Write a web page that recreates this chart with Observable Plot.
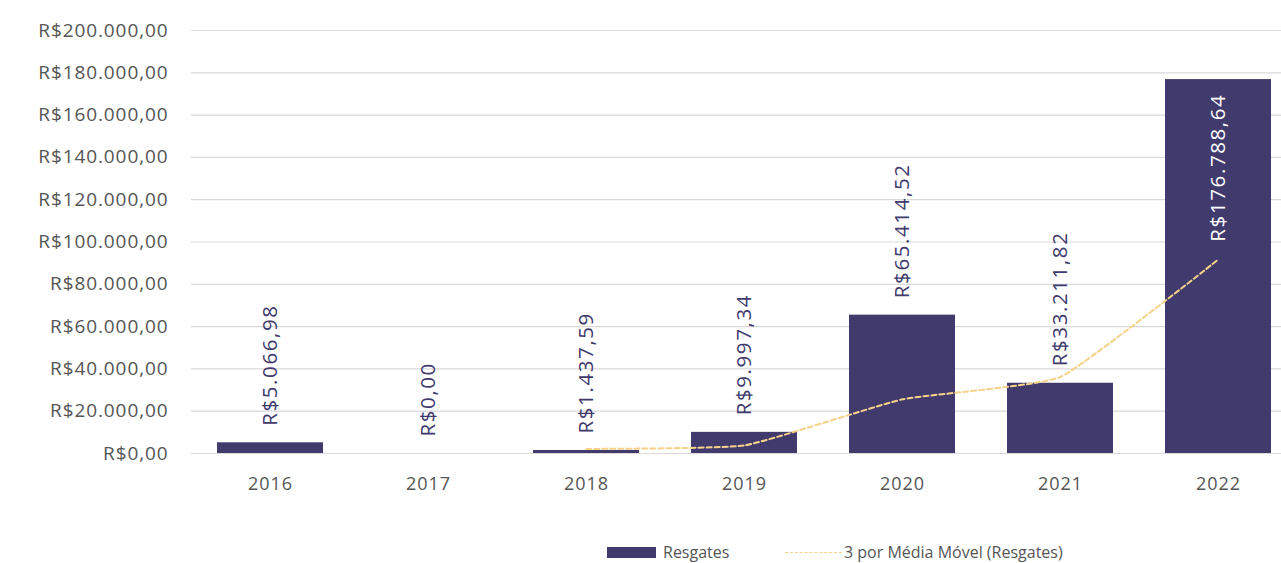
<!DOCTYPE html>
<html>
<head>
<meta charset="utf-8">
<script src="https://cdn.jsdelivr.net/npm/d3@7"></script>
<script src="https://cdn.jsdelivr.net/npm/@observablehq/plot@0.6"></script>
<style>
  html, body { margin: 0; padding: 0; background: #fff; overflow: hidden; width: 1281px; height: 563px; }
  #chart svg { display: block; max-width: none !important; }
  #chart svg g[aria-label="y-axis tick label"] text,
  #chart svg g[aria-label="x-axis tick label"] text { letter-spacing: 0.9px; }
  #chart svg g[aria-label="text"] text { letter-spacing: 1.6px; }
  #legend { position: relative; height: 22px; margin-top: 36px; font-family: "Open Sans", sans-serif; font-size: 16px; color: #555; }
  #legend .item { position: absolute; top: 0; display: flex; align-items: center; height: 22px; }
  #legend .sw { width: 49px; height: 11px; background: #403a6d; margin-right: 7px; }
  #legend .ln { width: 57px; height: 0; border-top: 1.5px dashed #f5d28a; margin-right: 2px; }
</style>
</head>
<body>
<div id="chart"></div>
<div id="legend">
  <div class="item" style="left:607px"><div class="sw"></div><span>Resgates</span></div>
  <div class="item" style="left:785px"><div class="ln"></div><span>3 por Média Móvel (Resgates)</span></div>
</div>
<script>
const years = ["2016", "2017", "2018", "2019", "2020", "2021", "2022"];
const resgates = [5066.98, 0, 1437.59, 9997.34, 65414.52, 33211.82, 176788.64];
const mediaYears = ["2018", "2019", "2020", "2021", "2022"];
const mediaMovel = [2168.19, 3811.64, 25616.48, 36207.89, 91804.99];
const yTicks = [0, 20000, 40000, 60000, 80000, 100000, 120000, 140000, 160000, 180000, 200000];

const brl = d3.formatLocale({decimal: ",", thousands: ".", grouping: [3], currency: ["R$", ""]}).format("$,.2f");

const bars = years.map((y, i) => ({year: y, value: resgates[i], label: brl(resgates[i])}));
const media = mediaYears.map((y, i) => ({year: y, value: mediaMovel[i]}));
const maxV = d3.max(resgates);
const outside = bars.filter(d => d.value !== maxV);
const inside = bars.filter(d => d.value === maxV);

const barColor = "#403a6d";

const chart = Plot.plot({
  width: 1297,
  height: 505,
  marginLeft: 191,
  marginRight: 0,
  marginTop: 30,
  marginBottom: 52,
  style: {fontFamily: "'Open Sans', sans-serif", fontSize: "19px", color: "#555", background: "white", overflow: "visible", maxWidth: "none"},
  x: {type: "band", domain: years, paddingInner: 0.33, paddingOuter: 0.165, label: null},
  y: {domain: [0, 200000], label: null},
  marks: [
    Plot.gridY(yTicks, {stroke: "#d9d9d9", strokeOpacity: 1, strokeWidth: 1.2}),
    Plot.axisY(yTicks, {tickSize: 0, tickPadding: 23, tickFormat: brl, fill: "#555", fontSize: 19, label: null}),
    Plot.axisX({tickSize: 0, tickPadding: 24, fill: "#555", fontSize: 18, label: null}),
    Plot.barY(bars, {x: "year", y: "value", fill: barColor}),
    Plot.line(media, {x: "year", y: "value", stroke: "#f5d28a", strokeWidth: 2, strokeDasharray: "5,3", curve: "cardinal", tension: 0.6}),
    Plot.text(outside, {x: "year", y: "value", text: "label", rotate: -90, textAnchor: "start", lineAnchor: "middle", dy: -17, fill: barColor, fontSize: 20.5}),
    Plot.text(inside, {x: "year", y: "value", text: "label", rotate: -90, textAnchor: "end", lineAnchor: "middle", dy: 14, fill: "white", fontSize: 20.5})
  ]
});
document.getElementById("chart").appendChild(chart);
</script>
</body>
</html>
